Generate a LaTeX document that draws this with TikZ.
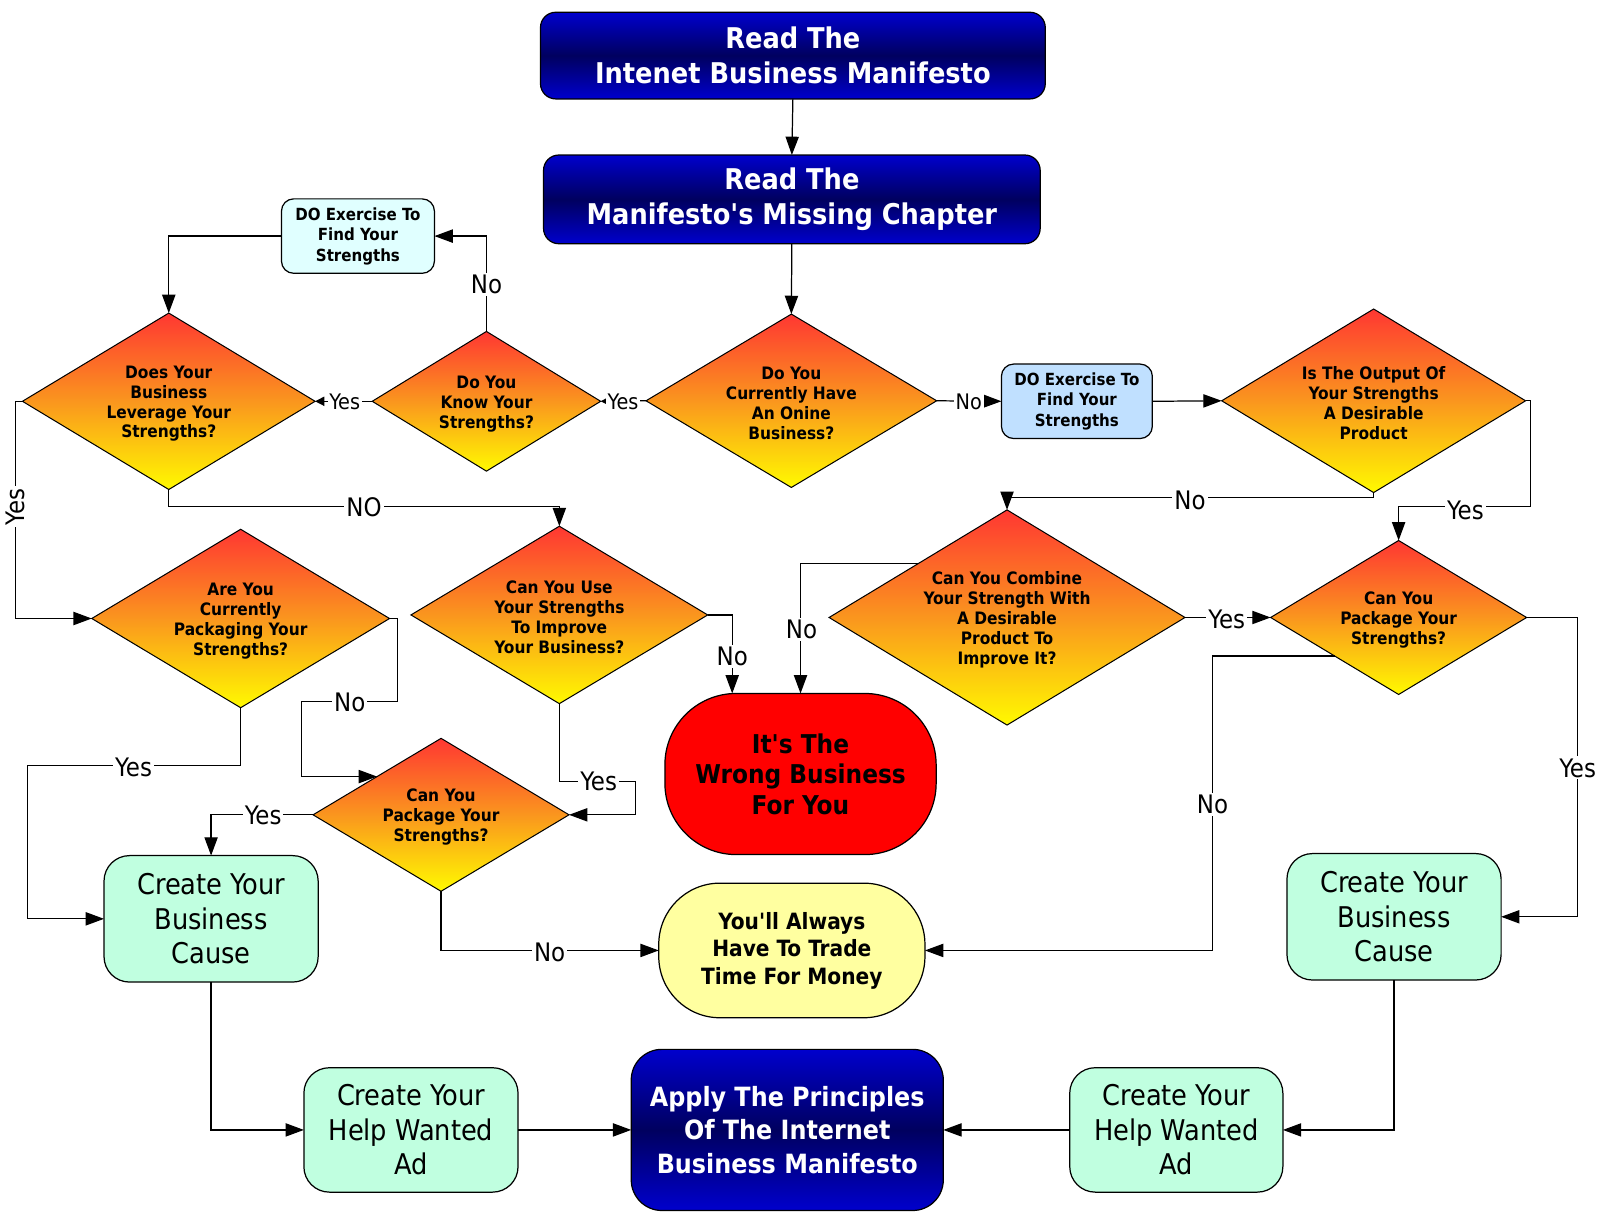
\documentclass[tikz,border=0pt]{standalone}
\usepackage{fontspec}
\setmainfont{DejaVu Sans Condensed}
\usetikzlibrary{shapes.geometric,arrows.meta,calc}
\definecolor{dtop}{RGB}{255,55,50}
\definecolor{dmid}{RGB}{250,150,30}
\definecolor{dbot}{RGB}{255,250,0}
\definecolor{navyA}{RGB}{0,0,205}
\definecolor{navyB}{RGB}{0,0,95}
\definecolor{mint}{RGB}{192,255,224}
\definecolor{ice}{RGB}{224,255,255}
\definecolor{sky}{RGB}{192,224,255}
\definecolor{pale}{RGB}{255,255,160}
\tikzset{
  every node/.style={inner sep=0pt, outer sep=0pt},
  dia/.style={diamond, draw=black, line width=0.5pt, shading=axis,
    top color=dtop, bottom color=dbot, middle color=dmid,
    label={[dtext, yshift=-1.2pt]center:{#1}}},
  dtext/.style={align=center, font=\bfseries\fontsize{8.4}{9.75}\selectfont},
  bluebox/.style={rectangle, draw=black, line width=0.6pt, shading=axis,
    top color=navyA, bottom color=navyA, middle color=navyB, text=white, align=center},
  exbox/.style={rectangle, rounded corners=6pt, draw=black, line width=0.6pt,
    align=center, font=\bfseries\fontsize{8.2}{10}\selectfont,
    minimum width=75pt, minimum height=36.5pt},
  greenbox/.style={rectangle, rounded corners=12.5pt, draw=black, line width=0.6pt,
    fill=mint, align=center, font=\fontsize{14}{17}\selectfont,
    minimum width=105pt},
  arr/.style={-{Triangle[length=9pt,width=6.5pt]}, line width=0.6pt},
  sarr/.style={-{Triangle[length=4.5pt,width=4.5pt]}, line width=0.6pt},
  lbl/.style={fill=white, inner sep=1pt, font=\fontsize{12.5}{13}\selectfont},
  slbl/.style={fill=white, inner sep=0.8pt, font=\fontsize{10.5}{11}\selectfont}
}
\begin{document}
\begin{tikzpicture}[x=0.5pt,y=-0.5pt]
\fill[white] (0,0) rectangle (1568,1191);
\useasboundingbox (0,0) rectangle (1568,1191);

% top boxes
\node[bluebox, rounded corners=7.5pt, minimum width=247.5pt, minimum height=42.5pt,
  font=\bfseries\fontsize{14}{17}\selectfont] (a) at (777.5,54.5)
  {Read The\\Intenet Business Manifesto};
\node[bluebox, rounded corners=7.5pt, minimum width=243.5pt, minimum height=43.5pt,
  font=\bfseries\fontsize{14}{17}\selectfont] (b) at (776.5,195.5)
  {Read The\\Manifesto\textquotesingle s Missing Chapter};

% diamonds
\node[dia={Do You\\Currently Have\\An Onine\\Business?}, minimum width=142.5pt, minimum height=85pt] (d1) at (776,393) {};
\node[dia={Do You\\Know Your\\Strengths?}, minimum width=112pt, minimum height=68.5pt] (d2) at (477,393.5) {};
\node[dia={Does Your\\Business\\Leverage Your\\Strengths?}, minimum width=143.5pt, minimum height=86.5pt] (d3) at (165.5,393.5) {};
\node[dia={Are You\\Currently\\Packaging Your\\Strengths?}, minimum width=146pt, minimum height=87.5pt] (d4) at (236,606.5) {};
\node[dia={Can You Use\\Your Strengths\\To Improve\\Your Business?}, minimum width=145.5pt, minimum height=87pt] (d5) at (548.5,603) {};
\node[dia={Can You\\Package Your\\Strengths?}, minimum width=125.5pt, minimum height=75pt] (d6) at (432.5,799) {};
\node[dia={Is The Output Of\\Your Strengths\\A Desirable\\Product}, minimum width=149pt, minimum height=90pt] (d7) at (1347,393) {};
\node[dia={Can You Combine\\Your Strength With\\A Desirable\\Product To\\Improve It?}, minimum width=174.5pt, minimum height=105.5pt] (d8) at (987.5,605.5) {};
\node[dia={Can You\\Package Your\\Strengths?}, minimum width=125.5pt, minimum height=75.5pt] (d9) at (1371.5,605.5) {};

% exercise boxes
\node[exbox, fill=ice] (e1) at (351,231.5) {DO Exercise To\\Find Your\\Strengths};
\node[exbox, fill=sky, minimum width=74pt] (e2) at (1056,393.5) {DO Exercise To\\Find Your\\Strengths};

% terminals
\node[rectangle, rounded corners=35pt, draw=black, line width=0.6pt, fill=red,
  minimum width=133pt, minimum height=79pt, align=center,
  font=\bfseries\fontsize{12.7}{15}\selectfont] (red) at (785,759)
  {It\textquotesingle s The\\Wrong Business\\For You};
\node[rectangle, rounded corners=30pt, draw=black, line width=0.6pt, fill=pale,
  minimum width=130.5pt, minimum height=66pt, align=center,
  font=\bfseries\fontsize{11}{13.5}\selectfont] (y) at (776.5,932)
  {You\textquotesingle ll Always\\Have To Trade\\Time For Money};

% green boxes
\node[greenbox, minimum height=62pt] (c1) at (207,901) {Create Your\\Business\\Cause};
\node[greenbox, minimum height=62pt] (c2) at (1367,899) {Create Your\\Business\\Cause};
\node[greenbox, minimum height=61pt] (h1) at (403,1108) {Create Your\\Help Wanted\\Ad};
\node[greenbox, minimum height=61pt, minimum width=104.5pt] (h2) at (1153.5,1108) {Create Your\\Help Wanted\\Ad};

% apply box
\node[bluebox, rounded corners=15pt, minimum width=153pt, minimum height=79pt,
  font=\bfseries\fontsize{13}{16.5}\selectfont] (ap) at (772,1108)
  {Apply The Principles\\Of The Internet\\Business Manifesto};

% helper points on diamond edges
\coordinate (p6) at ($(d6.west)!0.5!(d6.north)$);
\coordinate (p8) at ($(d8.west)!0.5!(d8.north)$);
\coordinate (p9) at ($(d9.west)!0.5!(d9.south)$);

% connectors
\draw[arr] (a.south) -- (b.north);
\draw[arr] (b.south) -- (d1.north);
\draw[sarr] (d1.west) -- (d2.east);
\draw[sarr] (d2.west) -- (d3.east);
\draw[arr] (d2.north) |- (e1.east);
\draw[arr] (e1.west) -| (d3.north);
\draw[arr] (d3.south) -- ++(0,17) -| (d5.north);
\draw[arr] (d3.west) -- ++(-7,0) |- (d4.west);
\draw[arr] (d4.east) -- ++(8,0) |- (296,688) |- (p6);
\draw[arr] (d5.east) -| ([xshift=33pt]red.north west);
\draw[arr] (d5.south) |- (623,766) |- (d6.east);
\draw[arr] (d4.south) |- (27,751) |- (c1.west);
\draw[arr] (d6.west) -| (c1.north);
\draw[arr] (d6.south) |- (y.west);
\draw[arr] (d1.east) -- (e2.west);
\draw[arr] (e2.east) -- (d7.west);
\draw[arr] (d7.south) -- ++(0,5) -| (d8.north);
\draw[arr] (p8) -| (red.north);
\draw[arr] (d8.east) -- (d9.west);
\draw[arr] (d7.east) -- ++(5,0) -- ++(0,104) -| (d9.north);
\draw[arr] (d9.east) -- ++(50,0) |- (c2.east);
\draw[arr] (p9) -| (1189,932) -- (y.east);
\draw[arr] (c2.south) |- (h2.east);
\draw[arr] (h2.west) -- (ap.east);
\draw[arr] (c1.south) |- (h1.west);
\draw[arr] (h1.east) -- (ap.west);

% connector labels
\node[slbl] (l1) at (338,394) {Yes};
\node[slbl] (l2) at (611,394) {Yes};
\node[slbl] (l3) at (950,394) {No};
\node[lbl] (l4) at (477,279) {No};
\node[lbl] (l5) at (357,497) {NO};
\node[lbl, rotate=90] (l6) at (15,497) {Yes};
\node[lbl] (l7) at (343,689) {No};
\node[lbl] (l8) at (718,644) {No};
\node[lbl] (l9) at (587,766) {Yes};
\node[lbl] (l10) at (131,752) {Yes};
\node[lbl] (l11) at (258,800) {Yes};
\node[lbl] (l12) at (539,934) {No};
\node[lbl] (l13) at (1167,491) {No};
\node[lbl] (l14) at (786,617) {No};
\node[lbl] (l15) at (1203,607) {Yes};
\node[lbl] (l16) at (1437,500) {Yes};
\node[lbl] (l17) at (1547,753) {Yes};
\node[lbl] (l18) at (1189,789) {No};
\end{tikzpicture}
\end{document}
